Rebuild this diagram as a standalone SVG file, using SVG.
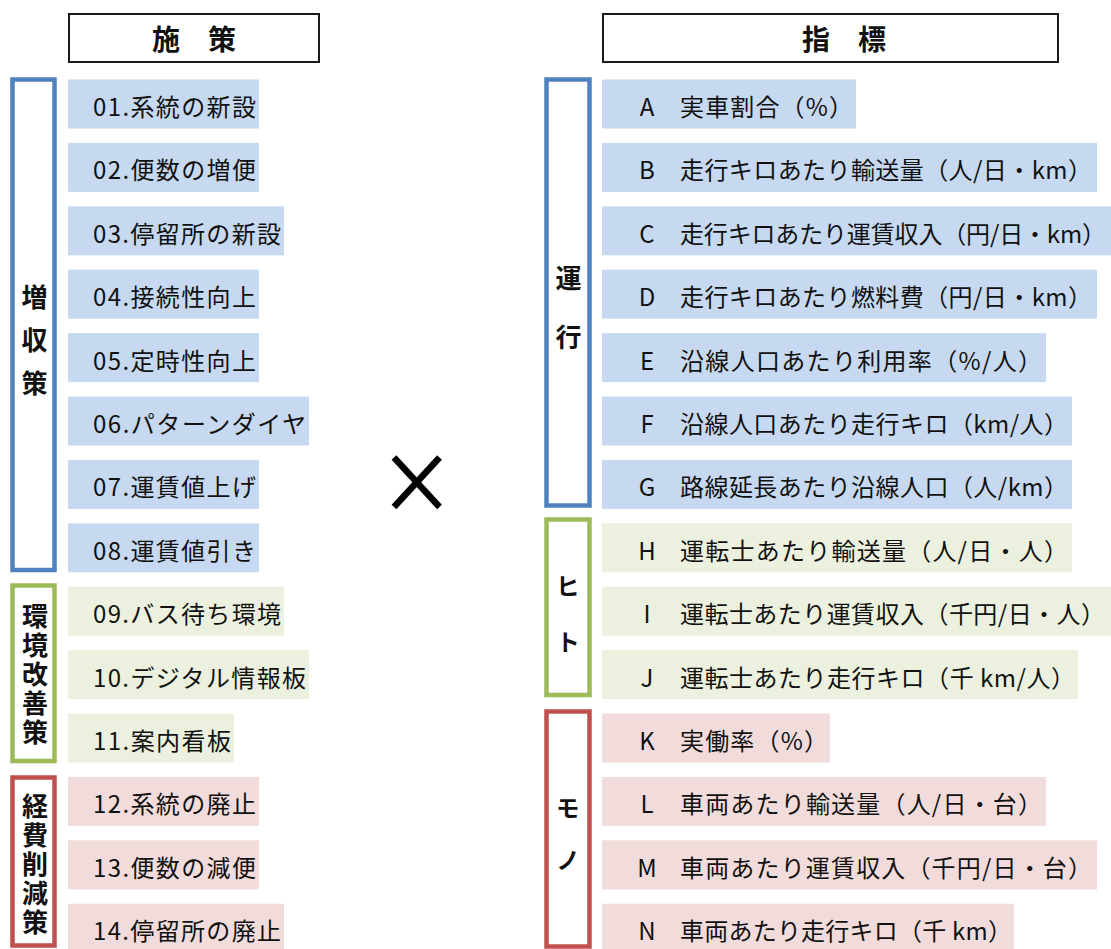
<svg xmlns="http://www.w3.org/2000/svg" width="1111" height="949" viewBox="0 0 1111 949">
<style>
  text { font-family: "Noto Sans CJK JP", "Noto Sans", sans-serif; fill: #111; }
  .hdr { fill: #fff; stroke: #1a1a1a; stroke-width: 2; }
  .htxt { font-size: 28px; font-weight: bold; }
  .item { font-size: 24px; }
  .letter { font-size: 24px; text-anchor: middle; }
  .vlab { font-size: 26px; font-weight: bold; writing-mode: vertical-rl; }
  .kata { font-size: 24px; font-weight: bold; writing-mode: vertical-rl; }
  .bb { fill: #fff; stroke: #4F81BD; stroke-width: 4.5; }
  .gb { fill: #fff; stroke: #9BBB59; stroke-width: 4.5; }
  .rb { fill: #fff; stroke: #C0504D; stroke-width: 4.5; }
  .bf { fill: #C6D9F0; }
  .gf { fill: #EBF1DE; }
  .rf { fill: #F2DCDB; }
  .x { stroke: #000; stroke-width: 6.5; stroke-linecap: butt; fill: none; }
</style>

<!-- Headers -->
<g id="header-left">
  <rect class="hdr" x="69" y="14" width="250" height="48"/>
  <text class="htxt" x="194" y="50" text-anchor="middle">施　策</text>
</g>
<g id="header-right">
  <rect class="hdr" x="603" y="14" width="455" height="48"/>
  <text class="htxt" x="844" y="50" text-anchor="middle">指　標</text>
</g>

<!-- Left brackets -->
<g id="group-zoushu">
  <rect class="bb" x="12.5" y="79.5" width="42" height="490.5"/>
  <text class="vlab" x="34.5" y="284" letter-spacing="17">増収策</text>
</g>
<g id="group-kankyo">
  <rect class="gb" x="12.5" y="585.5" width="42" height="175.5"/>
  <text class="vlab" x="35" y="603" letter-spacing="3">環境改善策</text>
</g>
<g id="group-keihi">
  <rect class="rb" x="12.5" y="777.5" width="42" height="168"/>
  <text class="vlab" x="35" y="793" letter-spacing="3">経費削減策</text>
</g>

<!-- Left items -->
<g id="m01"><rect class="bf" x="68" y="79.5" width="191" height="49"/><text class="item" x="93" y="116" textLength="163" lengthAdjust="spacing">01.系統の新設</text></g>
<g id="m02"><rect class="bf" x="68" y="142.9" width="191" height="49"/><text class="item" x="93" y="179.4" textLength="163" lengthAdjust="spacing">02.便数の増便</text></g>
<g id="m03"><rect class="bf" x="68" y="206.3" width="216" height="49"/><text class="item" x="93" y="242.8" textLength="188" lengthAdjust="spacing">03.停留所の新設</text></g>
<g id="m04"><rect class="bf" x="68" y="269.7" width="191" height="49"/><text class="item" x="93" y="306.2" textLength="163" lengthAdjust="spacing">04.接続性向上</text></g>
<g id="m05"><rect class="bf" x="68" y="333.1" width="191" height="49"/><text class="item" x="93" y="369.6" textLength="163" lengthAdjust="spacing">05.定時性向上</text></g>
<g id="m06"><rect class="bf" x="68" y="396.5" width="241" height="49"/><text class="item" x="93" y="433" textLength="213" lengthAdjust="spacing">06.パターンダイヤ</text></g>
<g id="m07"><rect class="bf" x="68" y="459.9" width="191" height="49"/><text class="item" x="93" y="496.4" textLength="163" lengthAdjust="spacing">07.運賃値上げ</text></g>
<g id="m08"><rect class="bf" x="68" y="523.3" width="191" height="49"/><text class="item" x="93" y="559.8" textLength="163" lengthAdjust="spacing">08.運賃値引き</text></g>
<g id="m09"><rect class="gf" x="68" y="586.7" width="216" height="49"/><text class="item" x="93" y="623.2" textLength="188" lengthAdjust="spacing">09.バス待ち環境</text></g>
<g id="m10"><rect class="gf" x="68" y="650.1" width="241" height="49"/><text class="item" x="93" y="686.6" textLength="213" lengthAdjust="spacing">10.デジタル情報板</text></g>
<g id="m11"><rect class="gf" x="68" y="713.5" width="166" height="49"/><text class="item" x="93" y="750" textLength="138" lengthAdjust="spacing">11.案内看板</text></g>
<g id="m12"><rect class="rf" x="68" y="776.9" width="191" height="49"/><text class="item" x="93" y="813.4" textLength="163" lengthAdjust="spacing">12.系統の廃止</text></g>
<g id="m13"><rect class="rf" x="68" y="840.3" width="191" height="49"/><text class="item" x="93" y="876.8" textLength="163" lengthAdjust="spacing">13.便数の減便</text></g>
<g id="m14"><rect class="rf" x="68" y="903.7" width="216" height="49"/><text class="item" x="93" y="940.2" textLength="188" lengthAdjust="spacing">14.停留所の廃止</text></g>

<!-- Right brackets -->
<g id="group-unko">
  <rect class="bb" x="546.5" y="79.5" width="43" height="426"/>
  <text class="vlab" x="568.5" y="265" letter-spacing="33">運行</text>
</g>
<g id="group-hito">
  <rect class="gb" x="546.5" y="519.5" width="43" height="175.5"/>
  <text class="kata" x="568" y="574" letter-spacing="32">ヒト</text>
</g>
<g id="group-mono">
  <rect class="rb" x="546.5" y="711.5" width="43" height="235"/>
  <text class="kata" x="568" y="796" letter-spacing="28">モノ</text>
</g>

<!-- Right items -->
<g id="iA"><rect class="bf" x="602" y="79.5" width="254" height="49"/><text class="letter" x="647" y="116">A</text><text class="item" x="680" y="116" textLength="173" lengthAdjust="spacing">実車割合（%）</text></g>
<g id="iB"><rect class="bf" x="602" y="142.9" width="495" height="49"/><text class="letter" x="647" y="179.4">B</text><text class="item" x="680" y="179.4" textLength="412" lengthAdjust="spacing">走行キロあたり輸送量（人/日・km）</text></g>
<g id="iC"><rect class="bf" x="602" y="206.3" width="509" height="49"/><text class="letter" x="647" y="242.8">C</text><text class="item" x="680" y="242.8" textLength="426" lengthAdjust="spacing">走行キロあたり運賃収入（円/日・km）</text></g>
<g id="iD"><rect class="bf" x="602" y="269.7" width="495" height="49"/><text class="letter" x="647" y="306.2">D</text><text class="item" x="680" y="306.2" textLength="412" lengthAdjust="spacing">走行キロあたり燃料費（円/日・km）</text></g>
<g id="iE"><rect class="bf" x="602" y="333.1" width="444" height="49"/><text class="letter" x="647" y="369.6">E</text><text class="item" x="680" y="369.6" textLength="362" lengthAdjust="spacing">沿線人口あたり利用率（%/人）</text></g>
<g id="iF"><rect class="bf" x="602" y="396.5" width="470" height="49"/><text class="letter" x="647" y="433">F</text><text class="item" x="680" y="433" textLength="388" lengthAdjust="spacing">沿線人口あたり走行キロ（km/人）</text></g>
<g id="iG"><rect class="bf" x="602" y="459.9" width="470" height="49"/><text class="letter" x="647" y="496.4">G</text><text class="item" x="680" y="496.4" textLength="388" lengthAdjust="spacing">路線延長あたり沿線人口（人/km）</text></g>
<g id="iH"><rect class="gf" x="602" y="523.3" width="470" height="49"/><text class="letter" x="647" y="559.8">H</text><text class="item" x="680" y="559.8" textLength="388" lengthAdjust="spacing">運転士あたり輸送量（人/日・人）</text></g>
<g id="iI"><rect class="gf" x="602" y="586.7" width="509" height="49"/><text class="letter" x="647" y="623.2">I</text><text class="item" x="680" y="623.2" textLength="425" lengthAdjust="spacing">運転士あたり運賃収入（千円/日・人）</text></g>
<g id="iJ"><rect class="gf" x="602" y="650.1" width="476" height="49"/><text class="letter" x="647" y="686.6">J</text><text class="item" x="680" y="686.6" textLength="395" lengthAdjust="spacing">運転士あたり走行キロ（千 km/人）</text></g>
<g id="iK"><rect class="rf" x="602" y="713.5" width="228" height="49"/><text class="letter" x="647" y="750">K</text><text class="item" x="680" y="750" textLength="148" lengthAdjust="spacing">実働率（%）</text></g>
<g id="iL"><rect class="rf" x="602" y="776.9" width="444" height="49"/><text class="letter" x="647" y="813.4">L</text><text class="item" x="680" y="813.4" textLength="362" lengthAdjust="spacing">車両あたり輸送量（人/日・台）</text></g>
<g id="iM"><rect class="rf" x="602" y="840.3" width="495" height="49"/><text class="letter" x="647" y="876.8">M</text><text class="item" x="680" y="876.8" textLength="412" lengthAdjust="spacing">車両あたり運賃収入（千円/日・台）</text></g>
<g id="iN"><rect class="rf" x="602" y="903.7" width="412" height="49"/><text class="letter" x="647" y="940.2">N</text><text class="item" x="680" y="940.2" textLength="332" lengthAdjust="spacing">車両あたり走行キロ（千 km）</text></g>

<!-- Connectors (none) and the multiplication mark -->
<g id="connectors">
  <g id="times">
    <line class="x" x1="394" y1="457.5" x2="439.5" y2="507"/>
    <line class="x" x1="439.5" y1="457.5" x2="394" y2="507"/>
  </g>
</g>
</svg>
